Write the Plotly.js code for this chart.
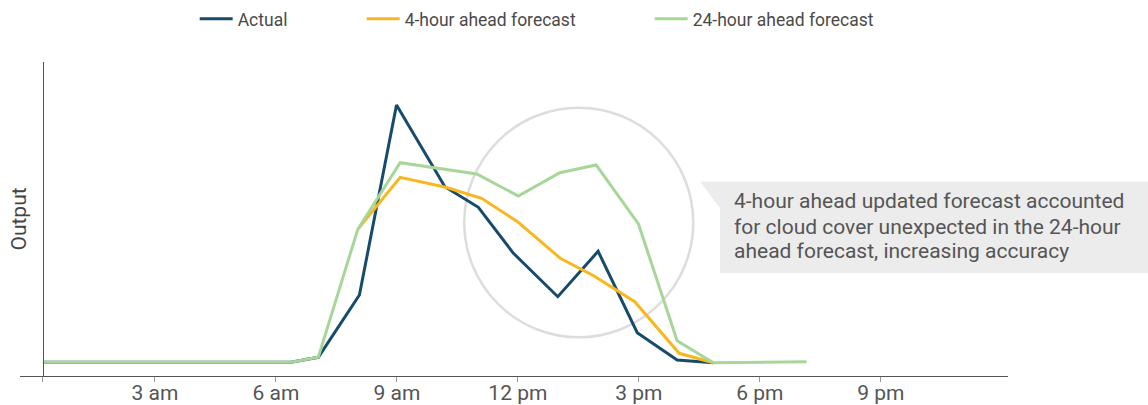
<!DOCTYPE html>
<html>
<head>
<meta charset="utf-8">
<script src="https://cdn.plot.ly/plotly-3.0.1.min.js"></script>
<style>html,body{margin:0;padding:0;background:#fff;}#chart{width:1148px;height:405px;}</style>
</head>
<body>
<div id="chart"></div>
<script>
// Hours of day (0 = midnight) and output (arbitrary units)
const actualHours = [0.22, 6.37, 7.05, 8.07, 8.99, 10.19, 11.02, 11.89, 12.99, 13.99, 14.96, 15.95, 16.85];
const actualOutput = [13.7, 13.7, 18.7, 81, 271, 189.3, 168.7, 122.7, 79.3, 124.7, 43.3, 16, 13.3];

const fc4Hours = [8.03, 9.08, 10.21, 11.10, 11.99, 13.06, 13.87, 14.90, 16.00, 16.85];
const fc4Output = [146.7, 198.7, 188.8, 177.7, 154.3, 117.5, 100.5, 74.3, 22.7, 13.3];

const fc24Hours = [0.22, 6.37, 7.05, 8.03, 9.08, 10.98, 12.01, 13.04, 13.94, 14.99, 15.95, 16.85, 19.16];
const fc24Output = [13.7, 13.7, 18.7, 146.7, 213.3, 202, 180, 203.3, 211, 152, 35.3, 13.3, 14.3];

const tickHours = [0.22, 3, 6, 9, 12, 15, 18, 21];
const tickLabels = ['', '3 am', '6 am', '9 am', '12 pm', '3 pm', '6 pm', '9 pm'];

const seriesNames = ['Actual', '4-hour ahead forecast', '24-hour ahead forecast'];
const noteLines = [
  '4-hour ahead updated forecast accounted',
  'for cloud cover unexpected in the 24-hour',
  'ahead forecast, increasing accuracy'
];

const FONT = 'Roboto, "Open Sans", sans-serif';

const traces = [
  {x: actualHours, y: actualOutput, name: seriesNames[0], type: 'scatter', mode: 'lines',
   line: {color: '#174b6c', width: 3}, legendwidth: 119},
  {x: fc4Hours, y: fc4Output, name: seriesNames[1], type: 'scatter', mode: 'lines',
   line: {color: '#f8b71f', width: 3}, legendwidth: 240},
  {x: fc24Hours, y: fc24Output, name: seriesNames[2], type: 'scatter', mode: 'lines',
   line: {color: '#a7d699', width: 3}}
];

const noteY = [0.556, 0.4745, 0.398];
const annotations = noteLines.map((t, i) => ({
  xref: 'paper', yref: 'paper', x: 0.7206, y: noteY[i], xanchor: 'left', yanchor: 'middle',
  align: 'left', showarrow: false, text: t,
  font: {family: FONT, size: 21, color: '#555555'}
}));

const layout = {
  width: 1148, height: 405,
  margin: {l: 20, r: 140, t: 62, b: 29, pad: 0, autoexpand: false},
  paper_bgcolor: '#ffffff', plot_bgcolor: '#ffffff',
  font: {family: FONT, color: '#555555', size: 16},
  showlegend: true,
  legend: {orientation: 'h', x: 0.1768, xanchor: 'left', y: 1.137, yanchor: 'middle',
           itemwidth: 33,
           font: {family: FONT, size: 17.5, color: '#4a4a4a'}, bgcolor: 'rgba(0,0,0,0)'},
  xaxis: {range: [-0.348, 24.156], showgrid: false, zeroline: false,
          showline: true, linecolor: '#555555', linewidth: 1,
          tickmode: 'array', tickvals: tickHours, ticktext: tickLabels,
          ticks: 'outside', ticklen: 5, tickcolor: '#999999', tickwidth: 1,
          ticklabelstandoff: -7,
          tickfont: {family: FONT, size: 21, color: '#555555'}, fixedrange: true},
  yaxis: {range: [0, 314], showgrid: false, zeroline: false,
          showline: true, linecolor: '#555555', linewidth: 1,
          anchor: 'free', position: 0.0233, showticklabels: false, ticks: '',
          title: {text: 'Output', font: {family: FONT, size: 21, color: '#444444'}, standoff: 9},
          fixedrange: true},
  shapes: [
    {type: 'circle', xref: 'x', yref: 'y', x0: 10.67, x1: 16.35, y0: 38.7, y1: 268.3,
     line: {color: '#dcdddd', width: 2.5}, layer: 'below'},
    {type: 'path', xref: 'paper', yref: 'paper',
     path: 'M0.6883,0.6188 L1.15,0.6188 L1.15,0.328 L0.7085,0.328 L0.7085,0.535 Z',
     fillcolor: '#ececec', line: {width: 0}, layer: 'below'}
  ],
  annotations: annotations
};

Plotly.newPlot('chart', traces, layout, {displayModeBar: false, staticPlot: true});
</script>
</body>
</html>
